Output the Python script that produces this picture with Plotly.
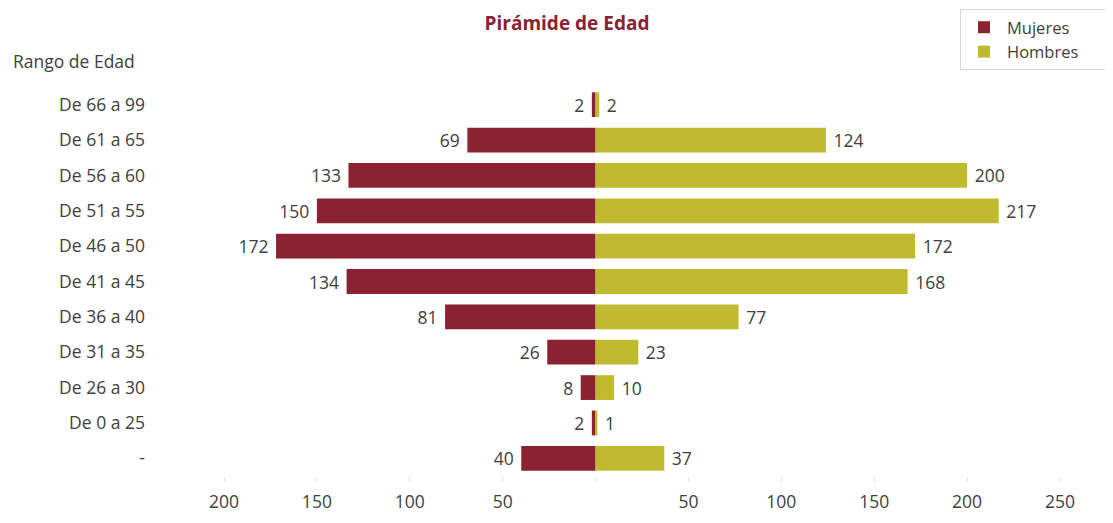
import plotly.graph_objects as go

categorias = ["-", "De 0 a 25", "De 26 a 30", "De 31 a 35", "De 36 a 40", "De 41 a 45",
              "De 46 a 50", "De 51 a 55", "De 56 a 60", "De 61 a 65", "De 66 a 99"]
mujeres = [40, 2, 8, 26, 81, 134, 172, 150, 133, 69, 2]
hombres = [37, 1, 10, 23, 77, 168, 172, 217, 200, 124, 2]
tick_vals = [-200, -150, -100, -50, 0, 50, 100, 150, 200, 250]
tick_text = ["200", "150", "100", "50", "", "50", "100", "150", "200", "250"]

COL_M = "#8B2232"
COL_H = "#C0BA31"
TXT = "#404040"
FONT = "Open Sans"
FS = 17.5
NB = "\u00a0"

W, H = 1105, 515
L, R, T, B = 216, 53, 79, 47
PW, PH = W - L - R, H - T - B

fig = go.Figure()
fig.add_trace(go.Bar(
    y=categorias, x=[-v for v in mujeres], orientation="h", name="Mujeres" + NB * 7,
    marker=dict(color=COL_M, line=dict(width=0)),
    text=[str(v) + NB for v in mujeres], textposition="outside", cliponaxis=False,
    textfont=dict(size=FS, color=TXT, family=FONT),
))
fig.add_trace(go.Bar(
    y=categorias, x=hombres, orientation="h", name="Hombres" + NB * 7,
    marker=dict(color=COL_H, line=dict(width=0)),
    text=[NB + str(v) for v in hombres], textposition="outside", cliponaxis=False,
    textfont=dict(size=FS, color=TXT, family=FONT),
))

fig.update_layout(
    width=W, height=H,
    margin=dict(l=L, r=R, t=T, b=B, autoexpand=False),
    barmode="relative", bargap=0.3,
    plot_bgcolor="white", paper_bgcolor="white",
    font=dict(family=FONT, color=TXT, size=FS),
    title=dict(text="<b>Pirámide de Edad</b>", x=(567 - 8) / W, xanchor="center",
               y=1 - 15 / H, yanchor="middle",
               font=dict(size=19, color=COL_M, family=FONT)),
    showlegend=True,
    legend=dict(x=(960 - 8 - L) / PW, xanchor="left", y=1 + (T - 1) / PH, yanchor="top",
                bordercolor="#d9d9d9", borderwidth=1, bgcolor="white",
                font=dict(size=16.5, color=TXT, family=FONT), traceorder="normal",
                itemwidth=36, tracegroupgap=0),
    xaxis=dict(range=[-200, 250], tickvals=tick_vals, ticktext=tick_text,
               showgrid=False, zeroline=False, showline=False,
               ticks="outside", ticklen=5, tickcolor="#e0e0e0",
               ticklabelstandoff=5,
               tickfont=dict(size=FS, color=TXT, family=FONT), fixedrange=True),
    yaxis=dict(showgrid=False, zeroline=False, showline=False, ticks="",
               tickfont=dict(size=FS, color=TXT, family=FONT),
               ticklabelstandoff=78, categoryorder="array", categoryarray=categorias),
    annotations=[dict(text="Rango de Edad", xref="paper", yref="paper",
                      x=-(L - 3) / PW, xanchor="left", y=1 + (T - 53) / PH, yanchor="middle",
                      showarrow=False, font=dict(size=FS, color=TXT, family=FONT))],
)

fig.write_html("out.html")
